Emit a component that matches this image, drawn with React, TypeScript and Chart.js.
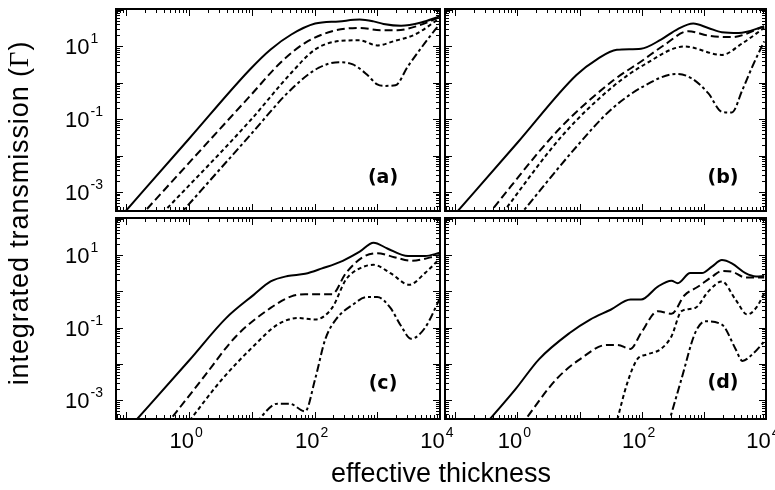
import { useEffect, useRef } from "react";
import { Chart, registerables } from "chart.js";

Chart.register(...registerables);

// Axis limits (thickness and Γ), shared by all four panels.
const X_MIN = 10 ** -1.165;
const X_MAX = 1e4;
const Y_MIN = 10 ** -3.5;
const Y_MAX = 10 ** 2.02;

// Decade exponents that carry a label.
const xLabelExps = [0, 2, 4];
const yLabelExps = [1, -1, -3];

// Curves as [log10 thickness, log10 Γ] pairs.
// Panel (a)
const aSolid = [[-1.1, -3.7], [0, -1.54], [0.97, 0.36], [1.3, 0.91], [1.63, 1.32], [2.01, 1.62], [2.39, 1.68], [2.72, 1.73], [2.94, 1.68], [3.1, 1.61], [3.38, 1.56], [3.7, 1.65], [4, 1.82]];
const aLong = [[-0.8, -3.71], [0.97, -0.37], [1.46, 0.55], [1.85, 1.09], [2.28, 1.41], [2.72, 1.5], [3.05, 1.44], [3.32, 1.44], [3.65, 1.56], [4, 1.8]];
const aShort = [[-0.5, -3.72], [0.97, -1.05], [1.63, 0.27], [2.01, 0.91], [2.39, 1.14], [2.72, 1.16], [3.0, 1.02], [3.27, 1.14], [3.6, 1.32], [4, 1.77]];
const aDashDot = [[-0.2, -3.72], [0.97, -1.45], [1.63, -0.18], [2.07, 0.41], [2.39, 0.56], [2.61, 0.5], [2.83, 0.23], [3.0, -0.05], [3.1, -0.09], [3.29, -0.07], [3.49, 0.45], [3.76, 1.09], [4, 1.62]];

// Panel (b)
const bSolid = [[-1.05, -3.7], [0, -1.65], [0.95, 0.21], [1.28, 0.64], [1.6, 0.9], [1.99, 0.93], [2.31, 1.18], [2.58, 1.47], [2.83, 1.62], [3.07, 1.5], [3.29, 1.38], [3.56, 1.36], [3.97, 1.54]];
const bLong = [[-0.5, -3.68], [0.68, -1.26], [1.55, 0.07], [1.99, 0.58], [2.37, 1.04], [2.75, 1.41], [3.07, 1.29], [3.45, 1.25], [3.97, 1.54]];
const bShort = [[-0.3, -3.72], [0.73, -1.44], [1.55, -0.09], [2.04, 0.49], [2.69, 0.99], [3.29, 0.76], [3.62, 1.08], [3.97, 1.5]];
const bDashDot = [[0, -3.72], [0.95, -1.76], [1.5, -0.75], [2.04, -0.09], [2.56, 0.24], [2.8, 0.12], [3.07, -0.29], [3.29, -0.8], [3.45, -0.82], [3.62, -0.2], [3.78, 0.44], [3.97, 1.13]];

// Panel (c)
const cSolid = [[-0.93, -3.72], [0, -1.91], [0.59, -0.74], [1.03, -0.1], [1.3, 0.27], [1.57, 0.42], [1.85, 0.48], [2.12, 0.63], [2.45, 0.84], [2.72, 1.09], [2.94, 1.34], [3.16, 1.18], [3.49, 0.97], [3.76, 0.97], [4, 1.06]];
const cLong = [[-0.38, -3.72], [0.21, -2.42], [0.75, -1.24], [1.3, -0.46], [1.63, -0.14], [1.85, -0.08], [2.28, -0.08], [2.5, 0.5], [2.78, 0.95], [3.0, 1.05], [3.27, 0.94], [3.54, 0.84], [4, 1.0]];
const cShort = [[-0.06, -3.72], [0.53, -2.42], [1.03, -1.51], [1.41, -0.92], [1.74, -0.74], [2.01, -0.78], [2.28, -0.46], [2.5, 0.32], [2.72, 0.63], [2.94, 0.73], [3.21, 0.5], [3.51, 0.18], [3.76, 0.5], [4, 0.91]];
const cDashDot = [[1.05, -3.65], [1.41, -3.1], [1.6, -3.1], [1.85, -3.31], [2.01, -2.42], [2.17, -1.33], [2.34, -0.78], [2.61, -0.37], [2.83, -0.16], [3.0, -0.16], [3.21, -0.46], [3.38, -0.96], [3.54, -1.31], [3.76, -1.01], [4, -0.19]];

// Panel (d)
const dSolid = [[-0.54, -3.72], [-0.03, -2.7], [0.35, -1.87], [0.84, -1.15], [1.17, -0.78], [1.5, -0.51], [1.82, -0.23], [1.99, -0.23], [2.26, 0.13], [2.48, 0.29], [2.58, 0.22], [2.78, 0.5], [2.97, 0.5], [3.13, 0.68], [3.29, 0.86], [3.45, 0.77], [3.67, 0.5], [3.84, 0.41], [3.97, 0.42]];
const dLong = [[0.05, -3.72], [0.63, -2.42], [1.01, -1.87], [1.44, -1.48], [1.61, -1.48], [1.82, -1.59], [1.99, -1.15], [2.26, -0.55], [2.48, -0.62], [2.69, -0.11], [2.91, 0.13], [3.13, 0.4], [3.29, 0.56], [3.45, 0.54], [3.67, 0.38], [3.97, 0.38]];
const dShort = [[1.58, -3.72], [1.77, -2.52], [1.93, -1.87], [2.09, -1.74], [2.31, -1.59], [2.48, -1.24], [2.64, -0.55], [2.86, -0.46], [3.07, -0.01], [3.29, 0.27], [3.51, -0.23], [3.7, -0.64], [3.84, -0.46], [4, 0.04]];
const dDashDot = [[2.42, -3.72], [2.64, -2.42], [2.86, -1.15], [3.02, -0.83], [3.29, -0.92], [3.51, -1.59], [3.62, -1.92], [3.78, -1.74], [4, -1.33]];

const LINE_DASHES: number[][] = [[], [8, 4], [4, 3], [8, 3, 3, 3]];
const NUM_FONT = '"Liberation Sans", Arial, Helvetica, sans-serif';

type Pad = { left: number; top: number; right: number; bottom: number };
type PanelSpec = {
  tag: string;
  box: { left: number; top: number; width: number; height: number };
  pad: Pad;
  showX: boolean;
  showY: boolean;
  tagOffset: [number, number];
  curves: number[][][];
};

const panels: PanelSpec[] = [
  { tag: "(a)", box: { left: 0, top: 0, width: 443, height: 215 }, pad: { left: 116, top: 9, right: 3, bottom: 4 }, showX: false, showY: true, tagOffset: [57, 33], curves: [aSolid, aLong, aShort, aDashDot] },
  { tag: "(b)", box: { left: 442, top: 0, width: 333, height: 215 }, pad: { left: 3, top: 9, right: 9, bottom: 4 }, showX: false, showY: false, tagOffset: [43, 33], curves: [bSolid, bLong, bShort, bDashDot] },
  { tag: "(c)", box: { left: 0, top: 214, width: 470, height: 276 }, pad: { left: 116, top: 4, right: 30, bottom: 71 }, showX: true, showY: true, tagOffset: [57, 35], curves: [cSolid, cLong, cShort, cDashDot] },
  { tag: "(d)", box: { left: 442, top: 214, width: 333, height: 276 }, pad: { left: 3, top: 4, right: 9, bottom: 71 }, showX: true, showY: false, tagOffset: [43, 36], curves: [dSolid, dLong, dShort, dDashDot] },
];

function drawPower(ctx: CanvasRenderingContext2D, exp: number, x: number, baseline: number, align: "center" | "left") {
  const base = "10";
  const sup = String(exp);
  ctx.font = `22px ${NUM_FONT}`;
  const wb = ctx.measureText(base).width;
  ctx.font = `14px ${NUM_FONT}`;
  const ws = ctx.measureText(sup).width;
  const total = wb + 1 + ws;
  const x0 = align === "center" ? x - total / 2 : x;
  ctx.textAlign = "left";
  ctx.textBaseline = "alphabetic";
  ctx.font = `22px ${NUM_FONT}`;
  ctx.fillText(base, x0, baseline);
  ctx.font = `14px ${NUM_FONT}`;
  ctx.fillText(sup, x0 + wb + 1, baseline - 11);
}

// Boxed frame with inward log ticks on all sides, decade labels and the panel tag.
const panelFrame = {
  id: "panelFrame",
  afterDatasetsDraw(chart: any, _args: any, opts: any) {
    const { ctx, chartArea } = chart;
    const { left, right, top, bottom } = chartArea;
    const xs = chart.scales.x;
    const ys = chart.scales.y;
    ctx.save();
    ctx.strokeStyle = "#000";
    ctx.fillStyle = "#000";
    ctx.lineWidth = 1;
    ctx.beginPath();
    for (let e = -2; e <= 4; e++) {
      for (let m = 1; m <= 9; m++) {
        const v = m * Math.pow(10, e);
        if (v < X_MIN * 0.999 || v > X_MAX * 1.001) continue;
        const p = Math.round(xs.getPixelForValue(v)) + 0.5;
        const len = m === 1 ? 7 : 4;
        ctx.moveTo(p, bottom);
        ctx.lineTo(p, bottom - len);
        ctx.moveTo(p, top);
        ctx.lineTo(p, top + len);
      }
    }
    for (let e = -4; e <= 2; e++) {
      for (let m = 1; m <= 9; m++) {
        const v = m * Math.pow(10, e);
        if (v < Y_MIN || v > Y_MAX) continue;
        const p = Math.round(ys.getPixelForValue(v)) + 0.5;
        const len = m === 1 ? 7 : 4;
        ctx.moveTo(left, p);
        ctx.lineTo(left + len, p);
        ctx.moveTo(right, p);
        ctx.lineTo(right - len, p);
      }
    }
    ctx.stroke();
    ctx.lineWidth = 2;
    ctx.strokeRect(left, top, right - left, bottom - top);

    if (opts.showX) {
      for (const e of xLabelExps) {
        const p = xs.getPixelForValue(Math.pow(10, e));
        drawPower(ctx, e, p - 3, bottom + 29, "center");
      }
    }
    if (opts.showY) {
      for (const e of yLabelExps) {
        const p = ys.getPixelForValue(Math.pow(10, e));
        drawPower(ctx, e, left - 51, p + 8, "left");
      }
    }
    ctx.font = `bold 19px "DejaVu Sans", ${NUM_FONT}`;
    ctx.textAlign = "center";
    ctx.textBaseline = "middle";
    ctx.fillText(opts.tag, right - opts.tagOffset[0], bottom - opts.tagOffset[1]);
    ctx.restore();
  },
};

function Panel({ spec }: { spec: PanelSpec }) {
  const ref = useRef<HTMLCanvasElement | null>(null);
  useEffect(() => {
    if (!ref.current) return;
    const chart = new Chart(ref.current, {
      type: "line",
      data: {
        datasets: spec.curves.map((curve, i) => ({
          data: curve.map(([lx, ly]) => ({ x: 10 ** lx, y: 10 ** ly })),
          borderColor: "#000",
          borderWidth: 2,
          borderDash: LINE_DASHES[i],
          borderCapStyle: "butt",
          pointRadius: 0,
          fill: false,
          cubicInterpolationMode: "monotone",
        })),
      },
      options: {
        responsive: false,
        animation: false,
        devicePixelRatio: 1,
        events: [],
        layout: { padding: spec.pad },
        scales: {
          x: { type: "logarithmic", min: X_MIN, max: X_MAX, display: false },
          y: { type: "logarithmic", min: Y_MIN, max: Y_MAX, display: false },
        },
        plugins: {
          legend: { display: false },
          tooltip: { enabled: false },
          panelFrame: { tag: spec.tag, showX: spec.showX, showY: spec.showY, tagOffset: spec.tagOffset },
        } as any,
      },
      plugins: [panelFrame],
    } as any);
    return () => chart.destroy();
  }, [spec]);
  const { left, top, width, height } = spec.box;
  return (
    <canvas
      ref={ref}
      width={width}
      height={height}
      style={{ position: "absolute", left, top, width, height }}
    />
  );
}

export default function App() {
  return (
    <div style={{ position: "absolute", left: 0, top: 0, width: 775, height: 490, background: "#fff", overflow: "hidden" }}>
      {panels.map((p) => (
        <Panel key={p.tag} spec={p} />
      ))}
      <div
        style={{
          position: "absolute",
          left: 19 - 220,
          top: 213 - 14,
          width: 440,
          height: 28,
          textAlign: "center",
          transform: "rotate(-90deg)",
          transformOrigin: "50% 50%",
          whiteSpace: "nowrap",
          font: `27px ${NUM_FONT}`,
          lineHeight: "28px",
          letterSpacing: "0.9px",
          color: "#000",
        }}
      >
        integrated transmission (<span style={{ fontFamily: '"Liberation Serif", "DejaVu Serif", serif' }}>Γ</span>)
      </div>
      <div
        style={{
          position: "absolute",
          left: 441,
          top: 460,
          transform: "translateX(-50%)",
          whiteSpace: "nowrap",
          font: `27px ${NUM_FONT}`,
          lineHeight: "27px",
          color: "#000",
        }}
      >
        effective thickness
      </div>
    </div>
  );
}
